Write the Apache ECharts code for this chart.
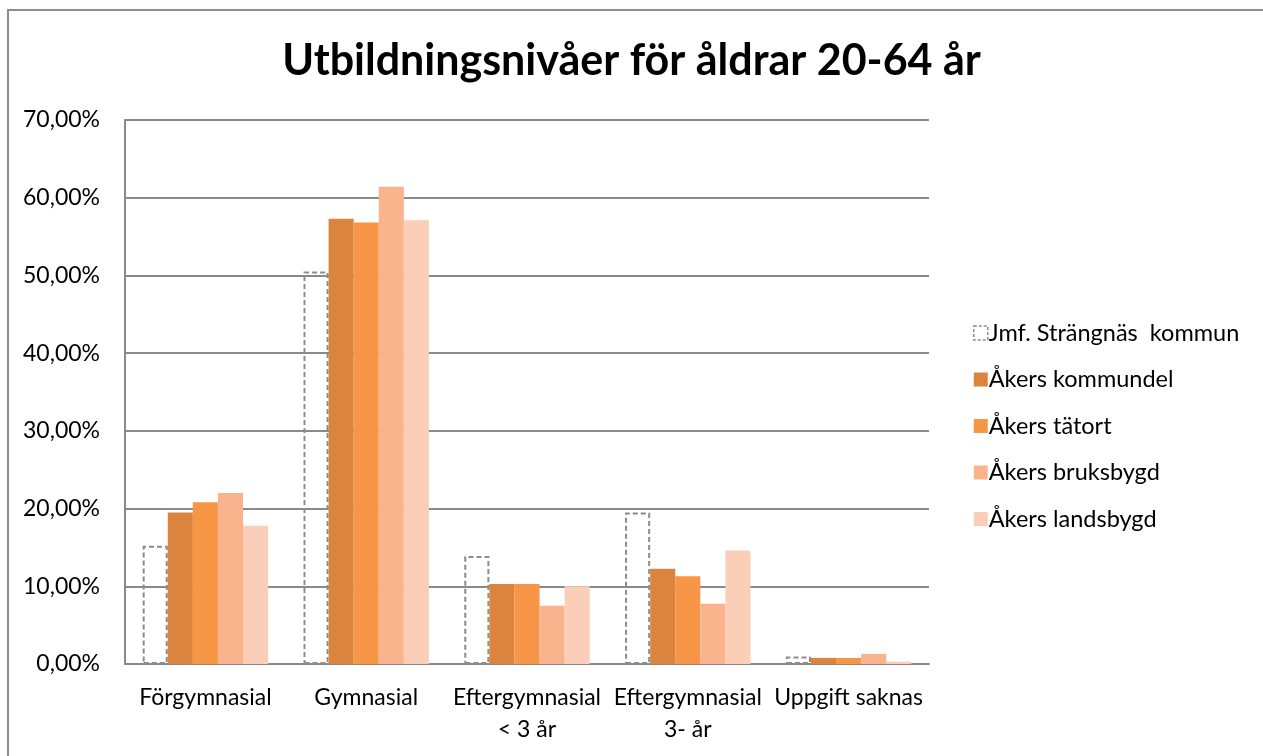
<!DOCTYPE html>
<html>
<head>
<meta charset="utf-8">
<script src="https://cdn.jsdelivr.net/npm/echarts@6/dist/echarts.min.js"></script>
<style>
  html, body { margin: 0; padding: 0; background: #fff; }
  #chart { width: 1263px; height: 756px; }
</style>
</head>
<body>
<div id="chart"></div>
<script>
// Utbildningsnivåer, andel av befolkningen 20-64 år
const categories = ['Förgymnasial', 'Gymnasial', 'Eftergymnasial\n< 3 år', 'Eftergymnasial\n3- år', 'Uppgift saknas']
const seriesNames = ['Jmf. Strängnäs  kommun', 'Åkers kommundel', 'Åkers tätort', 'Åkers bruksbygd', 'Åkers landsbygd']
const strangnas = [0.152, 0.505, 0.139, 0.195, 0.0095]
const kommundel = [0.195, 0.573, 0.103, 0.1225, 0.0078]
const tatort = [0.208, 0.568, 0.103, 0.113, 0.0078]
const bruksbygd = [0.220, 0.614, 0.075, 0.0775, 0.013]
const landsbygd = [0.178, 0.571, 0.100, 0.146, 0.003]
const colors = ['#8c8c8c', '#DB843D', '#F79646', '#F9B48E', '#FBCEB7']

const font = 'Lato, "Open Sans", sans-serif'
const gridColor = '#8a8a8a'

const chart = echarts.init(document.getElementById('chart'))

const filled = [kommundel, tatort, bruksbygd, landsbygd].map((data, i) => ({
  name: seriesNames[i + 1],
  type: 'bar',
  data,
  barGap: '0%',
  barCategoryGap: '22%',
  itemStyle: { color: colors[i + 1] },
}))

chart.setOption({
  animation: false,
  textStyle: { fontFamily: font },
  title: {
    text: 'Utbildningsnivåer för åldrar 20-64 år',
    left: 'center',
    top: 35,
    textStyle: { fontSize: 43, fontWeight: 'bold', color: '#000', fontFamily: font },
  },
  graphic: [
    {
      type: 'rect',
      shape: { x: 8, y: 10, width: 1400, height: 900 },
      style: { fill: 'none', stroke: '#8c8c8c', lineWidth: 2 },
      silent: true,
    },
  ],
  legend: {
    orient: 'vertical',
    left: 968,
    top: 316,
    itemGap: 22.5,
    itemWidth: 14,
    itemHeight: 14,
    icon: 'rect',
    data: [
      { name: seriesNames[0], itemStyle: { borderType: [3, 2], borderWidth: 1.5, borderColor: colors[0], color: 'rgba(255,255,255,0)' } },
      ...seriesNames.slice(1),
    ],
    textStyle: { fontSize: 23.5, color: '#000', fontFamily: font, padding: [0, 0, 0, -4] },
  },
  grid: { left: 125, right: 334, top: 120, bottom: 92 },
  xAxis: {
    type: 'category',
    data: categories,
    axisTick: { show: false },
    axisLine: { lineStyle: { color: gridColor, width: 2 } },
    axisLabel: { interval: 0, color: '#000', fontSize: 23, margin: 18, lineHeight: 32, fontFamily: font },
  },
  yAxis: {
    type: 'value',
    min: 0,
    max: 0.7,
    interval: 0.1,
    axisLine: { show: true, lineStyle: { color: gridColor, width: 2 } },
    axisTick: { show: false },
    splitLine: { lineStyle: { color: gridColor, width: 2 } },
    axisLabel: {
      color: '#000',
      fontSize: 23,
      margin: 25,
      fontFamily: font,
      formatter: (v) => (v * 100).toFixed(2).replace('.', ',') + '%',
    },
  },
  series: [
    {
      name: seriesNames[0],
      type: 'bar',
      data: strangnas,
      barGap: '0%',
      barCategoryGap: '22%',
      itemStyle: {
        color: 'rgba(255,255,255,0)',
        borderColor: colors[0],
        borderWidth: 2,
        borderType: [5, 3],
      },
    },
    ...filled,
  ],
})
</script>
</body>
</html>
